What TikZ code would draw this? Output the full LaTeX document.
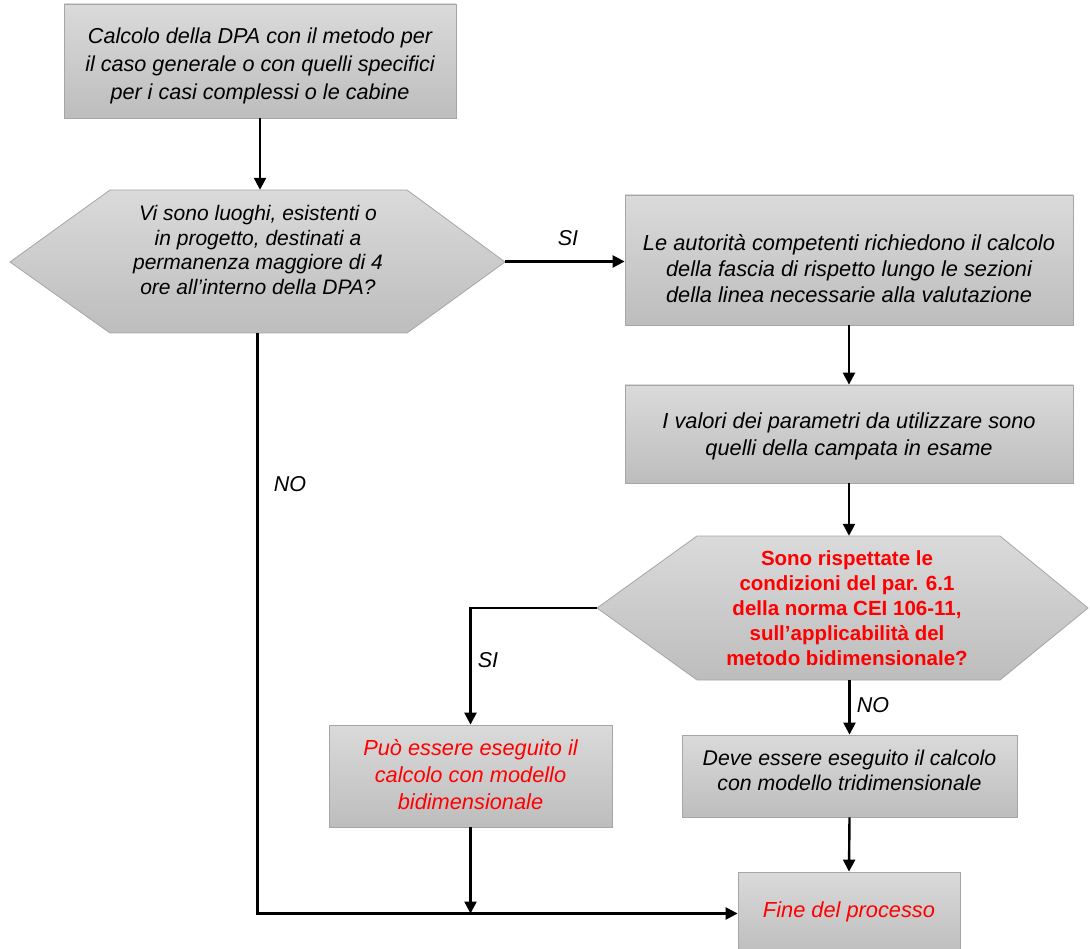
\documentclass[tikz,border=0pt]{standalone}
\usepackage{fontspec}
\setmainfont{Liberation Sans}
\usetikzlibrary{arrows.meta}
\definecolor{boxtop}{HTML}{DADADA}
\definecolor{boxbot}{HTML}{BDBDBD}
\definecolor{boxline}{HTML}{A6A6A6}
\definecolor{redtxt}{HTML}{FF0000}
\begin{document}
\begin{tikzpicture}[x=1pt,y=-1pt,
  box/.style={draw=boxline, line width=0.8pt, top color=boxtop, bottom color=boxbot, inner sep=0pt},
  anchorbox/.style={inner sep=0pt},
  txt/.style={align=center, inner sep=0pt, font=\fontsize{21.8}{26}\selectfont\itshape},
  redit/.style={txt, text=redtxt},
  redbf/.style={align=center, inner sep=0pt, font=\fontsize{20.5}{25}\selectfont\bfseries, text=redtxt},
  arr/.style={line width=2.4pt, -{Triangle[length=12pt,width=12pt]}},
  lbl/.style={inner sep=0pt, font=\fontsize{21.5}{24}\selectfont\itshape}]
\useasboundingbox (0,0) rectangle (1090,949);

% Box 1
\node[box, minimum width=392, minimum height=114] (b1) at (260,61) {};
\node[txt, font=\fontsize{21.6}{28.3}\selectfont\itshape] (b1t) at (260,66) {Calcolo della DPA con il metodo per\\il caso generale o con quelli specifici\\per i casi complessi o le cabine};

% Decision 1
\path[box] (10,262) -- (110,190) -- (407,190) -- (505,262) -- (407,333) -- (110,333) -- cycle;
\node[anchorbox, minimum width=495, minimum height=143] (d1) at (257.5,261.5) {};
\node[txt, font=\fontsize{21}{24.6}\selectfont\itshape] (d1t) at (258,250) {Vi sono luoghi, esistenti o\\in progetto, destinati a\\permanenza maggiore di 4\\ore all’interno della DPA?};

% Box 2
\node[box, minimum width=448, minimum height=130] (b2) at (849,260) {};
\node[txt] (b2t) at (849,269) {Le autorità competenti richiedono il calcolo\\della fascia di rispetto lungo le sezioni\\della linea necessarie alla valutazione};

% Box 3
\node[box, minimum width=448, minimum height=98] (b3) at (849,434) {};
\node[txt, font=\fontsize{21.8}{27}\selectfont\itshape] (b3t) at (849,436) {I valori dei parametri da utilizzare sono\\quelli della campata in esame};

% Decision 2
\path[box] (597,608) -- (697,536) -- (1000,536) -- (1088,608) -- (1000,680) -- (697,680) -- cycle;
\node[anchorbox, minimum width=491, minimum height=144] (d2) at (842.5,608) {};
\node[redbf] (d2t) at (847,608) {Sono rispettate le\\condizioni del par. 6.1\\della norma CEI 106-11,\\sull’applicabilità del\\metodo bidimensionale?};

% Bidimensional box
\node[box, minimum width=283, minimum height=102] (bi) at (470.5,776) {};
\node[redit, font=\fontsize{21.8}{27}\selectfont\itshape] (bit) at (470.5,775) {Può essere eseguito il\\calcolo con modello\\bidimensionale};

% Tridimensional box
\node[box, minimum width=335, minimum height=82] (tri) at (849.5,776) {};
\node[txt, font=\fontsize{21.3}{25}\selectfont\itshape] (trit) at (849.5,770) {Deve essere eseguito il calcolo\\con modello tridimensionale};

% End box
\node[box, minimum width=222, minimum height=83] (fine) at (849,913.5) {};
\node[redit] (finet) at (849,912) {Fine del processo};

% Connectors
\draw[arr] (b1.south) -- (b1.south |- d1.north);
\draw[arr] (d1.east) -- (b2.west |- d1.east);
\draw[arr] (b2.south) -- (b3.north);
\draw[arr] (b3.south) -- (b3.south |- d2.north);
\draw[arr] (d2.west) -| (bi.north);
\draw[arr] (tri.north |- d2.south) -- (tri.north);
\draw[arr] (tri.south) -- (fine.north);
\draw[arr] (d1.south) |- (fine.west);
\draw[arr] (bi.south) -- (bi.south |- fine.west);

% Labels
\node[lbl] (si1) at (568,238) {SI};
\node[lbl] (no1) at (290,484) {NO};
\node[lbl] (si2) at (488,660) {SI};
\node[lbl] (no2) at (873,705) {NO};
\end{tikzpicture}
\end{document}
